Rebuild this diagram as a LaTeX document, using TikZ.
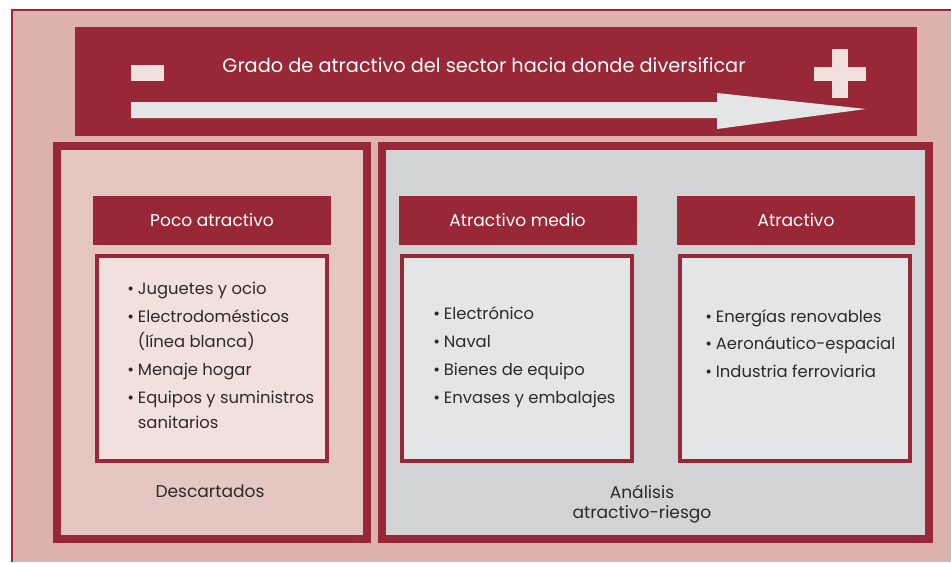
\documentclass[tikz,border=0pt]{standalone}
\usepackage{fontspec}
\setmainfont{Poppins}
\usepackage{tikz}
\usetikzlibrary{calc}

\definecolor{granate}{RGB}{152,40,55}
\definecolor{rosafondo}{RGB}{222,178,172}
\definecolor{rosapanel}{RGB}{229,199,193}
\definecolor{rosacaja}{RGB}{242,224,222}
\definecolor{grispanel}{RGB}{210,211,213}
\definecolor{griscaja}{RGB}{228,229,231}
\definecolor{texto}{RGB}{43,43,43}

\newcommand{\bul}{\makebox[8pt][l]{•}}
\newcommand{\sig}{\hspace*{8pt}}

\begin{document}
\begin{tikzpicture}[x=0.75pt, y=-0.75pt]

\tikzstyle{panel} = [rectangle, draw=granate, line width=6pt, minimum width=232.5pt, minimum height=294.75pt]
\tikzstyle{header} = [rectangle, fill=granate, text=white, minimum width=178.5pt, minimum height=36.75pt, font=\fontsize{12.8}{15}\selectfont]
\tikzstyle{lista} = [rectangle, draw=granate, line width=3pt, minimum width=172.5pt, minimum height=153.75pt]
\tikzstyle{items} = [anchor=base west, inner sep=0pt, align=left, text=texto, font=\fontsize{12.3}{18.4}\selectfont]
\tikzstyle{pie} = [anchor=base, inner sep=0pt, align=center, text=texto, font=\fontsize{12.8}{15}\selectfont]

\useasboundingbox (0,0) rectangle (951,562);
\fill[rosafondo] (11,9) rectangle (951,562);
\draw[granate, line width=1.5pt] (12,562) -- (12,10) -- (951,10);

% banda superior
\node (banda) [rectangle, fill=granate, minimum width=631.5pt, minimum height=81.75pt, inner sep=0pt] at (496,81.5) {};
\node (titulo) [anchor=base, inner sep=0pt, text=white, font=\fontsize{14.5}{16}\selectfont] at (484,72) {Grado de atractivo del sector hacia donde diversificar};
\fill[rosacaja] (131,65) rectangle (164,81);
\fill[rosacaja] (832,49) rectangle (848,98);
\fill[rosacaja] (814,67) rectangle (866,81);
\fill[griscaja] (131,102) -- (717,102) -- (717,93) -- (866,109) -- (717,129) -- (717,118) -- (131,118) -- cycle;

% paneles
\node (descarte) [panel, fill=rosapanel] at (212,342.5) {};
\node (analisis) [panel, fill=grispanel, minimum width=410.25pt] at (655.5,342.5) {};

\node (poco) [header] at (212,220.5) {Poco atractivo};
\node (medio) [header] at (517.5,220.5) {Atractivo medio};
\node (atrac) [header] at (796,220.5) {Atractivo};

\node (listapoco) [lista, fill=rosacaja] at (212,358.5) {};
\node (listamedio) [lista, fill=griscaja] at (517,358.5) {};
\node (listaatrac) [lista, fill=griscaja] at (795,358.5) {};

% el ancla base cae en la ultima linea
\node (txtpoco) [items] at (127,428) {\bul Juguetes y ocio\\[2.6pt]
  \bul Electrodomésticos\\ \sig(línea blanca)\\[2.6pt]
  \bul Menaje hogar\\[2.6pt]
  \bul Equipos y suministros\\ \sig sanitarios};
\node (txtmedio) [items, font=\fontsize{12.3}{21}\selectfont] at (433,403) {\bul Electrónico\\ \bul Naval\\ \bul Bienes de equipo\\ \bul Envases y embalajes};
\node (txtatrac) [items, font=\fontsize{12.3}{20.6}\selectfont] at (705,377) {\bul Energías renovables\\ \bul Aeronáutico-espacial\\ \bul Industria ferroviaria};

\node (descartados) [pie] at (210,497) {Descartados};
\node (riesgo) [pie] at (642,518) {Análisis\\ atractivo-riesgo};

\end{tikzpicture}
\end{document}
